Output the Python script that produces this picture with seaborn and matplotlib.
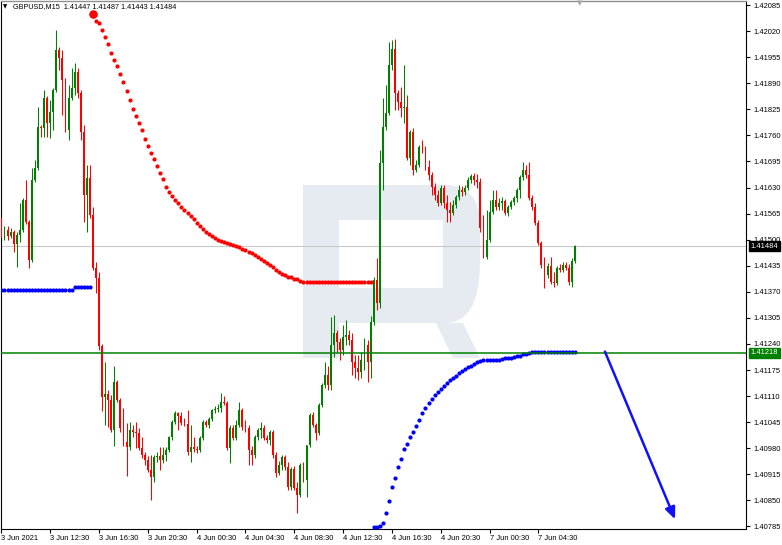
import numpy as np
import pandas as pd
import matplotlib
matplotlib.use("Agg")
import matplotlib.pyplot as plt
import matplotlib.transforms as mtransforms
from matplotlib.patches import PathPatch, Polygon, Rectangle
from matplotlib.path import Path
import seaborn as sns

# ---------------- data ----------------
symbol_title = "GBPUSD,M15  1.41447 1.41487 1.41443 1.41484"
first_open = 1.41554

closes = [
    1.41504, 1.41524, 1.41509, 1.41519, 1.41489, 1.41511, 1.41524, 1.41599, 1.41544, 1.41449,
    1.41648, 1.41678, 1.41781, 1.41778, 1.41853, 1.41791, 1.41818, 1.41873, 1.41972, 1.41952,
    1.41898, 1.41773, 1.41853, 1.41878, 1.41918, 1.41865, 1.41768, 1.41611, 1.41653, 1.41561,
    1.41429, 1.41404, 1.41235, 1.41108, 1.41115, 1.41100, 1.41025, 1.41145, 1.41100, 1.41030,
    1.40995, 1.40983, 1.41025, 1.41020, 1.41018, 1.40981, 1.40963, 1.40951, 1.40926, 1.40908,
    1.40958, 1.40961, 1.40951, 1.40963, 1.40976, 1.41008, 1.41045, 1.41068, 1.41060, 1.41043,
    1.41040, 1.40971, 1.40983, 1.40978, 1.40976, 1.41005, 1.41045, 1.41038, 1.41053, 1.41075,
    1.41078, 1.41080, 1.41095, 1.41093, 1.40981, 1.41030, 1.41005, 1.41038, 1.41075, 1.41033,
    1.41030, 1.40976, 1.40963, 1.41008, 1.41025, 1.41030, 1.41005, 1.41000, 1.41020, 1.40963,
    1.40918, 1.40938, 1.40958, 1.40933, 1.40883, 1.40928, 1.40881, 1.40863, 1.40938, 1.40901,
    1.40988, 1.41063, 1.41038, 1.41018, 1.41088, 1.41138, 1.41162, 1.41138, 1.41237, 1.41267,
    1.41245, 1.41225, 1.41257, 1.41262, 1.41250, 1.41195, 1.41180, 1.41170, 1.41200, 1.41237,
    1.41195, 1.41295, 1.41399, 1.41342, 1.41691, 1.41781, 1.41815, 1.41935, 1.41975, 1.41865,
    1.41843, 1.41828, 1.41830, 1.41703, 1.41768, 1.41673, 1.41686, 1.41731, 1.41723, 1.41681,
    1.41661, 1.41631, 1.41611, 1.41591, 1.41628, 1.41591, 1.41574, 1.41566, 1.41586, 1.41606,
    1.41623, 1.41618, 1.41628, 1.41648, 1.41658, 1.41648, 1.41643, 1.41529, 1.41457, 1.41499,
    1.41569, 1.41599, 1.41581, 1.41591, 1.41596, 1.41566, 1.41581, 1.41594, 1.41604, 1.41623,
    1.41656, 1.41673, 1.41661, 1.41604, 1.41581, 1.41541, 1.41491, 1.41437, 1.41412, 1.41434,
    1.41394, 1.41392, 1.41429, 1.41424, 1.41437, 1.41429, 1.41394, 1.41447, 1.41484,
]

highs = [
    1.41658, 1.41534, 1.41534, 1.41529, 1.41524, 1.41519, 1.41591, 1.41604, 1.41648, 1.41549,
    1.41678, 1.41698, 1.41830, 1.41786, 1.41873, 1.41858, 1.41848, 1.41878, 1.42022, 1.41980,
    1.41972, 1.41903, 1.41885, 1.41928, 1.41940, 1.41928, 1.41873, 1.41786, 1.41686, 1.41686,
    1.41581, 1.41444, 1.41419, 1.41240, 1.41195, 1.41125, 1.41113, 1.41185, 1.41150, 1.41105,
    1.41080, 1.41043, 1.41045, 1.41038, 1.41045, 1.41030, 1.41008, 1.40971, 1.40961, 1.40963,
    1.40963, 1.40971, 1.40983, 1.40983, 1.40983, 1.41010, 1.41050, 1.41073, 1.41070, 1.41070,
    1.41055, 1.41075, 1.41038, 1.41008, 1.40986, 1.41010, 1.41050, 1.41050, 1.41058, 1.41078,
    1.41085, 1.41090, 1.41118, 1.41110, 1.41098, 1.41038, 1.41038, 1.41050, 1.41095, 1.41080,
    1.41050, 1.41038, 1.40986, 1.41013, 1.41030, 1.41045, 1.41038, 1.41013, 1.41025, 1.41025,
    1.40971, 1.40948, 1.40963, 1.40963, 1.40946, 1.40933, 1.40936, 1.40896, 1.40943, 1.40946,
    1.40988, 1.41068, 1.41070, 1.41043, 1.41093, 1.41143, 1.41195, 1.41185, 1.41307, 1.41312,
    1.41275, 1.41255, 1.41287, 1.41300, 1.41275, 1.41267, 1.41212, 1.41212, 1.41220, 1.41255,
    1.41250, 1.41310, 1.41407, 1.41454, 1.41723, 1.41853, 1.41885, 1.41992, 1.41997, 1.42000,
    1.41873, 1.41880, 1.41935, 1.41860, 1.41773, 1.41778, 1.41698, 1.41736, 1.41748, 1.41733,
    1.41698, 1.41668, 1.41641, 1.41623, 1.41636, 1.41636, 1.41611, 1.41594, 1.41599, 1.41611,
    1.41636, 1.41634, 1.41636, 1.41656, 1.41663, 1.41666, 1.41663, 1.41653, 1.41561, 1.41574,
    1.41599, 1.41623, 1.41623, 1.41604, 1.41606, 1.41601, 1.41586, 1.41599, 1.41609, 1.41628,
    1.41661, 1.41693, 1.41686, 1.41693, 1.41611, 1.41591, 1.41549, 1.41496, 1.41457, 1.41442,
    1.41457, 1.41419, 1.41434, 1.41439, 1.41444, 1.41444, 1.41439, 1.41454, 1.41487,
]

lows = [
    1.41494, 1.41499, 1.41499, 1.41504, 1.41469, 1.41432, 1.41494, 1.41519, 1.41539, 1.41429,
    1.41444, 1.41643, 1.41673, 1.41756, 1.41756, 1.41756, 1.41753, 1.41773, 1.41868, 1.41923,
    1.41810, 1.41768, 1.41748, 1.41848, 1.41860, 1.41853, 1.41748, 1.41544, 1.41519, 1.41554,
    1.41424, 1.41367, 1.41225, 1.41073, 1.41038, 1.41033, 1.41020, 1.40986, 1.41095, 1.41020,
    1.40986, 1.40911, 1.40976, 1.41008, 1.40981, 1.40976, 1.40956, 1.40938, 1.40921, 1.40851,
    1.40896, 1.40946, 1.40926, 1.40943, 1.40948, 1.40971, 1.41000, 1.41040, 1.41025, 1.41038,
    1.41035, 1.40963, 1.40946, 1.40971, 1.40968, 1.40971, 1.41000, 1.41033, 1.41030, 1.41048,
    1.41068, 1.41070, 1.41070, 1.41088, 1.40976, 1.40943, 1.41000, 1.41000, 1.41033, 1.41025,
    1.41020, 1.40938, 1.40938, 1.40956, 1.41000, 1.41005, 1.41000, 1.40993, 1.40988, 1.40956,
    1.40908, 1.40913, 1.40926, 1.40926, 1.40876, 1.40876, 1.40876, 1.40819, 1.40858, 1.40896,
    1.40858, 1.40983, 1.41033, 1.41000, 1.41013, 1.41083, 1.41130, 1.41125, 1.41125, 1.41207,
    1.41220, 1.41200, 1.41212, 1.41237, 1.41237, 1.41162, 1.41155, 1.41150, 1.41155, 1.41175,
    1.41145, 1.41155, 1.41287, 1.41325, 1.41330, 1.41623, 1.41773, 1.41810, 1.41923, 1.41823,
    1.41823, 1.41805, 1.41791, 1.41698, 1.41686, 1.41661, 1.41668, 1.41681, 1.41716, 1.41673,
    1.41648, 1.41611, 1.41599, 1.41584, 1.41586, 1.41579, 1.41544, 1.41544, 1.41561, 1.41579,
    1.41599, 1.41609, 1.41611, 1.41623, 1.41641, 1.41636, 1.41628, 1.41519, 1.41454, 1.41452,
    1.41494, 1.41564, 1.41574, 1.41574, 1.41574, 1.41561, 1.41559, 1.41576, 1.41586, 1.41594,
    1.41604, 1.41648, 1.41653, 1.41599, 1.41574, 1.41536, 1.41486, 1.41429, 1.41379, 1.41404,
    1.41389, 1.41382, 1.41387, 1.41419, 1.41419, 1.41424, 1.41387, 1.41382, 1.41443,
]

# Parabolic SAR segments
sar_blue_left_start = 0
sar_blue_left = [1.41374] * 24 + [1.41382] * 6
sar_red_start = 30
sar_red = [
    1.42062, 1.42045, 1.42039, 1.42022, 1.42006, 1.41987, 1.41966, 1.41949, 1.41933, 1.41913,
    1.41893, 1.41870, 1.41848, 1.41826, 1.41808, 1.41790, 1.41773, 1.41752, 1.41734, 1.41717,
    1.41701, 1.41683, 1.41667, 1.41651,
    1.41631, 1.41618, 1.41609, 1.41600, 1.41591, 1.41582, 1.41574, 1.41566, 1.41559, 1.41551,
    1.41542, 1.41534, 1.41526, 1.41520, 1.41514, 1.41509, 1.41504, 1.41500, 1.41496, 1.41494,
    1.41491, 1.41489, 1.41486, 1.41484, 1.41481, 1.41478, 1.41474, 1.41470, 1.41467, 1.41462,
    1.41457, 1.41452, 1.41447, 1.41442, 1.41437, 1.41432, 1.41425, 1.41420, 1.41415, 1.41412,
    1.41408, 1.41406, 1.41403, 1.41401, 1.41397,
] + [1.41394] * 23
sar_blue_right_start = 122
sar_blue_right = [
    1.40784, 1.40784, 1.40786,
    1.40794, 1.40819, 1.40848, 1.40883, 1.40905, 1.40933, 1.40954, 1.40977, 1.40991, 1.41007,
    1.41021, 1.41035, 1.41051, 1.41067, 1.41080, 1.41092, 1.41103, 1.41113,
    1.41120, 1.41128, 1.41135, 1.41143, 1.41150, 1.41155, 1.41161, 1.41168, 1.41173, 1.41178,
    1.41182, 1.41186, 1.41190, 1.41194, 1.41197, 1.41199, 1.41199, 1.41200, 1.41200, 1.41201,
    1.41201, 1.41202, 1.41204, 1.41205, 1.41206, 1.41207, 1.41210, 1.41211, 1.41214, 1.41215,
    1.41217,
] + [1.41219] * 15

current_price = 1.41484
current_price_label = "1.41484"
level_price = 1.41218
level_price_label = "1.41218"

price_tick_labels = ["1.40785", "1.40850", "1.40915", "1.40980", "1.41045", "1.41110",
                     "1.41175", "1.41240", "1.41305", "1.41370", "1.41435", "1.41500",
                     "1.41565", "1.41630", "1.41695", "1.41760", "1.41825", "1.41890",
                     "1.41955", "1.42020", "1.42085"]
time_labels = ["3 Jun 2021", "3 Jun 12:30", "3 Jun 16:30", "3 Jun 20:30", "4 Jun 00:30",
               "4 Jun 04:30", "4 Jun 08:30", "4 Jun 12:30", "4 Jun 16:30", "4 Jun 20:30",
               "7 Jun 00:30", "7 Jun 04:30"]
bars_per_label = 16

arrow_start = (197.8, 1.41221)
arrow_end = (220.8, 1.40803)

# ---------------- style ----------------
sns.set_style("white")
plt.rcParams['font.family'] = ['Liberation Sans', 'DejaVu Sans']

W, H = 782, 545
fig = plt.figure(figsize=(W / 100, H / 100), dpi=100)
fig.patch.set_facecolor('white')
ax = fig.add_axes([0.5 / W, 1 - 528.5 / H, 745.5 / W, 527.5 / H])
ax.set_facecolor('white')

# pixel transform (x right, y down) for the decorative watermark
px = mtransforms.Affine2D().scale(1 / W, -1 / H).translate(0, 1) + fig.transFigure

wm_color = '#E6EBF2'
verts = [(303, 185), (445, 185), (480, 185), (480, 225), (480, 262), (480, 323), (445, 323),
         (339, 323), (339, 358), (303, 358), (303, 185)]
codes = [Path.MOVETO, Path.LINETO, Path.CURVE3, Path.CURVE3, Path.LINETO, Path.CURVE3,
         Path.CURVE3, Path.LINETO, Path.LINETO, Path.LINETO, Path.CLOSEPOLY]
ax.add_patch(PathPatch(Path(verts, codes), transform=px, facecolor=wm_color,
                       edgecolor='none', zorder=0.5, clip_on=False))
ax.add_patch(Rectangle((339, 220), 104, 68, transform=px, facecolor='white',
                       edgecolor='none', zorder=0.6, clip_on=False))
ax.add_patch(Polygon([(436, 323), (463, 323), (480, 358), (453, 358)], closed=True,
                     transform=px, facecolor=wm_color, edgecolor='none', zorder=0.5,
                     clip_on=False))

# ---------------- candles ----------------
c = np.array(closes)
o = np.r_[first_open, c[:-1]]
hi = np.maximum.reduce([np.array(highs), o, c])
lo = np.minimum.reduce([np.array(lows), o, c])
idx = np.arange(len(c))
up = c >= o
cols = np.where(up, '#008000', '#FF0000')

ax.axhline(current_price, color='#C8C8C8', lw=0.8, zorder=1.5)
ax.vlines(idx, lo, hi, colors=cols, linewidth=0.75, zorder=2)
body = np.maximum(np.abs(c - o), 0.000025)
ax.bar(idx, body, bottom=np.minimum(o, c), width=0.62, color=cols, linewidth=0, zorder=3)

# ---------------- SAR ----------------
df_bl = pd.DataFrame({'bar': np.arange(sar_blue_left_start, sar_blue_left_start + len(sar_blue_left)),
                      'sar': sar_blue_left})
df_rd = pd.DataFrame({'bar': np.arange(sar_red_start, sar_red_start + len(sar_red)), 'sar': sar_red})
df_br = pd.DataFrame({'bar': np.arange(sar_blue_right_start, sar_blue_right_start + len(sar_blue_right)),
                      'sar': sar_blue_right})
for df, col in [(df_bl, '#0000FF'), (df_rd, '#FF0000'), (df_br, '#0000FF')]:
    sns.scatterplot(data=df, x='bar', y='sar', color=col, s=9, linewidth=0, ax=ax,
                    zorder=4, legend=False)
ax.scatter(df_rd['bar'].iloc[0], df_rd['sar'].iloc[0], s=38, color='#FF0000', linewidth=0, zorder=4)

ax.axhline(level_price, color='#008000', lw=1.1, zorder=5)

ax.annotate('', xy=arrow_end, xytext=arrow_start,
            arrowprops=dict(arrowstyle='-|>,head_length=0.7,head_width=0.3', color='#1010FF',
                            lw=1.8, shrinkA=0, shrinkB=0), zorder=6)

# ---------------- axes ----------------
ax.set_xlim(-0.3, 244.05)
ax.set_ylim(1.40780, 1.42095)
ax.set_xlabel('')
ax.set_ylabel('')
ax.yaxis.tick_right()
ax.set_yticks([float(s) for s in price_tick_labels])
ax.set_yticklabels(price_tick_labels)
ax.tick_params(axis='y', direction='out', length=3, width=0.8, labelsize=5.4, pad=2,
               colors='black', right=True, left=False)
ax.set_xticks(np.arange(len(time_labels)) * bars_per_label)
ax.set_xticklabels(time_labels)
ax.tick_params(axis='x', direction='out', length=3, width=0.8, labelsize=5.4, pad=2,
               colors='black', bottom=True)
for lbl in ax.get_xticklabels():
    lbl.set_horizontalalignment('left')
for s in ['left', 'right', 'bottom']:
    ax.spines[s].set_color('black')
    ax.spines[s].set_linewidth(0.8)
ax.spines['top'].set_color('#909090')
ax.spines['top'].set_linewidth(1.0)

trans = mtransforms.blended_transform_factory(ax.transAxes, ax.transData)
ax.text(1.0065, current_price, current_price_label, transform=trans, ha='left', va='center',
        fontsize=5.4, color='white', clip_on=False, zorder=10,
        bbox=dict(boxstyle='square,pad=0.22', fc='black', ec='black'))
ax.text(1.0065, level_price, level_price_label, transform=trans, ha='left', va='center',
        fontsize=5.4, color='white', clip_on=False, zorder=10,
        bbox=dict(boxstyle='square,pad=0.22', fc='#008000', ec='#008000'))

fig.text(3 / W, 1 - 7 / H, '▼', fontsize=4, va='center', ha='left', color='black',
         family=['DejaVu Sans'])
fig.text(13 / W, 1 - 7 / H, symbol_title, fontsize=5.2, va='center', ha='left', color='black')
fig.text(580 / W, 1 - 3 / H, '▼', fontsize=5, va='center', ha='center', color='#A8A8A8',
         family=['DejaVu Sans'])

fig.savefig('out.png', dpi=100)
